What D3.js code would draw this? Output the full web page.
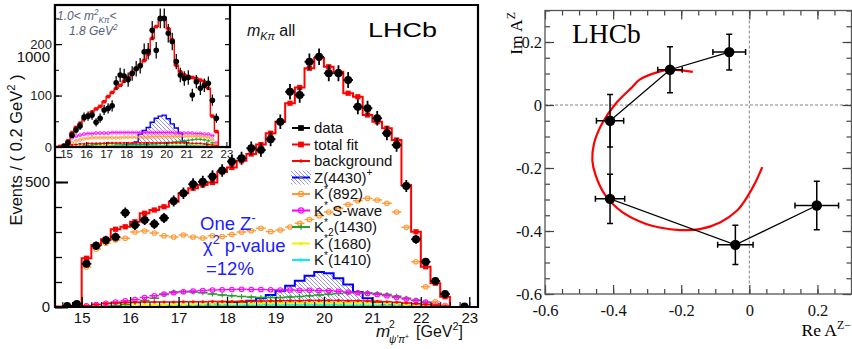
<!DOCTYPE html>
<html>
<head>
<meta charset="utf-8">
<script src="https://cdn.jsdelivr.net/npm/d3@7"></script>
<style>
  body { margin: 0; background: #fff; }
  svg { display: block; }
</style>
</head>
<body>
<script>
// ---- left panel: m^2(psi' pi+) histogram, 0.2 GeV^2 bins ----
const binCenters = [14.7, 14.9, 15.1, 15.3, 15.5, 15.7, 15.9, 16.1, 16.3, 16.5, 16.7, 16.9, 17.1, 17.3,
  17.5, 17.7, 17.9, 18.1, 18.3, 18.5, 18.7, 18.9, 19.1, 19.3, 19.5, 19.7, 19.9, 20.1, 20.3, 20.5,
  20.7, 20.9, 21.1, 21.3, 21.5, 21.7, 21.9, 22.1, 22.3, 22.5, 22.7, 22.9];
const binHalfWidth = 0.1;

const mainData = [4, 12, 173, 245, 267, 280, 377, 328, 348, 332, 356, 424, 455, 491, 501, 522, 546, 582, 595, 635, 628, 671,
  741, 861, 848, 981, 1001, 935, 935, 908, 801, 795, 755, 695, 648, 484, 271, 181, 104, 52, 0, 2];
const mainErr = [2, 4, 14, 17, 18, 18, 21, 20, 20, 20, 20, 22, 23, 24, 24, 25, 25, 26, 26, 27, 27, 28,
  29, 31, 31, 33, 33, 32, 32, 32, 30, 30, 29, 28, 27, 24, 18, 15, 11, 8, 1, 2];
const mainTotal = [2, 5, 195, 248, 271, 311, 321, 341, 375, 388, 401, 421, 455, 475, 488, 498, 540, 558, 585, 612, 650, 695,
  741, 815, 878, 955, 996, 961, 941, 855, 841, 768, 741, 715, 668, 488, 301, 161, 95, 41, 0, 0];
const mainBkg = [0, 0, 5, 10, 14, 16, 18, 19, 20, 20, 20, 20, 21, 21, 21, 22, 22, 22, 23, 23, 24, 24,
  25, 25, 25, 26, 26, 26, 26, 25, 25, 24, 23, 21, 19, 16, 13, 10, 6, 3, 0, 0];
const mainZ = [0, 0, 0, 0, 0, 0, 0, 1, 1, 2, 2, 3, 3, 5, 7, 10, 13, 16, 20, 25, 35, 48,
  65, 85, 105, 125, 140, 135, 115, 90, 60, 35, 20, 12, 8, 5, 3, 2, 1, 0, 0, 0];
const mainK892 = [0, 2, 160, 232, 255, 268, 275, 300, 304, 296, 285, 280, 288, 280, 276, 285, 282, 290, 300, 305, 315, 302,
  308, 320, 335, 350, 365, 380, 395, 410, 425, 435, 428, 415, 380, 319, 181, 81, 21, 5, 0, 0];
const mainSwave = [0, 0, 5, 10, 15, 20, 25, 30, 38, 45, 52, 57, 61, 64, 66, 68, 69, 70, 71, 70, 70, 69,
  68, 68, 67, 67, 66, 65, 63, 60, 57, 54, 50, 45, 38, 32, 26, 20, 14, 6, 0, 0];
const mainK2 = [0, 0, 0, 1, 3, 6, 10, 18, 26, 35, 50, 60, 62, 60, 57, 52, 48, 45, 42, 40, 38, 38,
  38, 40, 42, 45, 48, 51, 54, 57, 58, 57, 54, 50, 43, 35, 27, 18, 10, 4, 0, 0];
const mainK1680 = [0, 0, 1, 2, 3, 4, 5, 6, 7, 8, 9, 10, 10, 11, 12, 12, 13, 13, 14, 14, 15, 15,
  15, 16, 16, 16, 16, 16, 15, 15, 15, 14, 14, 13, 12, 10, 8, 6, 4, 2, 0, 0];
const mainK1410 = [0, 0, 1, 1, 2, 2, 3, 3, 4, 4, 5, 5, 5, 6, 6, 6, 7, 7, 7, 7, 8, 8,
  8, 8, 8, 8, 8, 8, 8, 7, 7, 7, 7, 6, 6, 5, 4, 3, 2, 1, 0, 0];

// inset: 1.0 < m^2(K pi) < 1.8 GeV^2
const insetData = [0, 2, 8, 23, 33, 41, 58, 60, 62, 48, 56, 72, 75, 80, 125, 140, 138, 131, 143, 152, 158, 185,
  186, 227, 188, 250, 250, 221, 205, 166, 140, 133, 135, 101, 127, 114, 120, 124, 91, 56, 0, 0];
const insetErr = [1, 2, 4, 6, 7, 8, 9, 9, 9, 8, 9, 10, 10, 11, 13, 14, 14, 14, 14, 15, 15, 16,
  16, 18, 16, 19, 19, 18, 17, 15, 14, 14, 14, 12, 13, 13, 13, 13, 11, 9, 0, 0];
const insetTotal = [1, 3, 12, 28, 38, 46, 55, 62, 68, 74, 79, 88, 98, 106, 114, 120, 128, 135, 145, 152, 159, 168,
  180, 211, 234, 248, 250, 230, 208, 159, 146, 140, 137, 135, 133, 130, 127, 114, 60, 30, 0, 0];
const insetBkg = [0, 0, 2, 4, 5, 6, 6, 7, 7, 7, 7, 7, 8, 8, 8, 8, 8, 8, 8, 8, 8, 8,
  8, 8, 8, 8, 8, 8, 8, 8, 8, 8, 8, 7, 7, 7, 6, 5, 4, 2, 0, 0];
const insetZ = [0, 0, 0, 0, 0, 0, 0, 0, 0, 0, 0, 0, 1, 1, 2, 2, 3, 4, 6, 10, 25, 32,
  38, 48, 56, 60, 62, 55, 45, 37, 27, 10, 4, 2, 1, 0, 0, 0, 0, 0, 0, 0];
const insetK892 = [0, 0, 4, 8, 12, 14, 16, 17, 18, 18, 18, 18, 18, 18, 18, 18, 19, 19, 19, 19, 19, 19,
  19, 20, 20, 20, 20, 20, 20, 21, 21, 21, 21, 21, 21, 21, 20, 18, 14, 5, 0, 0];
const insetSwave = [0, 0, 10, 18, 21, 23, 25, 26, 26, 27, 27, 27, 27, 28, 28, 28, 28, 28, 28, 28, 28, 28,
  28, 28, 28, 28, 28, 28, 28, 27, 27, 27, 27, 27, 26, 26, 25, 25, 22, 8, 0, 0];
const insetK2 = [0, 0, 0, 0, 1, 1, 2, 3, 4, 5, 6, 7, 7, 7, 6, 6, 5, 5, 5, 5, 5, 5,
  5, 6, 6, 7, 7, 8, 9, 10, 11, 12, 13, 14, 15, 15, 14, 12, 8, 3, 0, 0];
const insetK1680 = [0, 0, 1, 1, 2, 2, 3, 3, 3, 4, 4, 4, 4, 5, 5, 5, 5, 5, 5, 6, 6, 6,
  6, 6, 6, 6, 6, 6, 6, 6, 6, 6, 6, 5, 5, 5, 5, 4, 3, 1, 0, 0];
const insetK1410 = [0, 0, 0, 1, 1, 1, 1, 2, 2, 2, 2, 2, 2, 2, 3, 3, 3, 3, 3, 3, 3, 3,
  3, 3, 3, 3, 3, 3, 3, 3, 3, 3, 3, 3, 3, 2, 2, 2, 1, 1, 0, 0];

const massTicks = [15, 16, 17, 18, 19, 20, 21, 22, 23];
const mainYTicks = [0, 500, 1000];
const insetYTicks = [0, 100, 200];

// ---- right panel: Argand diagram of the Z amplitude ----
const argRe = [-0.059, -0.233, -0.409, -0.409, -0.041, 0.198];
const argIm = [0.168, 0.112, -0.050, -0.298, -0.444, -0.319];
const argReErr = [0.048, 0.036, 0.040, 0.043, 0.052, 0.064];
const argImErr = [0.057, 0.073, 0.083, 0.078, 0.062, 0.077];
const arcRe = [-0.166, -0.234, -0.264, -0.323, -0.343, -0.392, -0.432, -0.456, -0.461, -0.451, -0.422,
  -0.372, -0.303, -0.264, -0.204, -0.145, -0.086, -0.036, -0.007, 0.018, 0.038];
const arcIm = [0.105, 0.112, 0.106, 0.080, 0.058, 0.005, -0.058, -0.122, -0.176, -0.224, -0.288,
  -0.341, -0.378, -0.389, -0.397, -0.394, -0.373, -0.335, -0.293, -0.245, -0.197];
const argTicks = [-0.6, -0.4, -0.2, 0, 0.2];
const argTickLabels = ['-0.6', '-0.4', '-0.2', '0', '0.2'];

const C = {
  red: '#ff0000', orange: '#ff9933', magenta: '#ff00ff', green: '#22a022',
  yellow: '#f2f200', cyan: '#00f0f0', blue: '#0000ff', hatch: '#8f8fdc', text: '#111'
};
const SANS = '"Liberation Sans", Arial, sans-serif';
const SERIF = '"Liberation Serif", "Times New Roman", serif';

const svg = d3.select('body').append('svg').attr('width', 852).attr('height', 349);
const defs = svg.append('defs');

defs.append('pattern')
  .attr('id', 'hatch')
  .attr('patternUnits', 'userSpaceOnUse')
  .attr('width', 4).attr('height', 4)
  .append('path')
  .attr('d', 'M-1,-1 l2,2 M0,0 l4,4 M3,3 l2,2')
  .attr('stroke', C.hatch)
  .attr('stroke-width', 0.9);

// text with super/subscripts: parts = [text, 'sup'|'sub'|null, italic]
function rich(parent, x, y, parts, opt) {
  const t = parent.append('text')
    .attr('x', x).attr('y', y)
    .attr('font-family', opt.family || SANS)
    .attr('font-size', opt.size)
    .attr('fill', opt.fill || C.text);
  if (opt.anchor) t.attr('text-anchor', opt.anchor);
  if (opt.transform) t.attr('transform', opt.transform).attr('x', 0).attr('y', 0);
  let shift = 0;
  parts.forEach(([txt, kind, italic]) => {
    const target = kind === 'sup' ? -opt.size * 0.42 : kind === 'sub' ? opt.size * 0.28 : 0;
    const ts = t.append('tspan').attr('dy', target - shift).text(txt);
    if (kind) ts.attr('font-size', opt.size * 0.68);
    if (italic) ts.attr('font-style', 'italic');
    shift = target;
  });
  return t;
}

function stepPts(vals, sx) {
  const pts = [[sx.domain()[0], vals[0]]];
  binCenters.forEach((c, i) => {
    pts.push([c - binHalfWidth, vals[i]]);
    pts.push([c + binHalfWidth, vals[i]]);
  });
  pts.push([sx.domain()[1], vals[vals.length - 1]]);
  return pts;
}

function marker(g, px, py, type, color, k) {
  if (type === 'circle') {
    g.append('circle').attr('cx', px).attr('cy', py).attr('r', 2.3 * k)
      .attr('fill', 'none').attr('stroke', color).attr('stroke-width', 1.1 * k);
  } else if (type === 'square') {
    g.append('rect').attr('x', px - 2.6 * k).attr('y', py - 2.6 * k)
      .attr('width', 5.2 * k).attr('height', 5.2 * k).attr('fill', color);
  } else if (type === 'plus') {
    g.append('path').attr('d', `M${px - 2.5 * k},${py}h${5 * k}M${px},${py - 2.5 * k}v${5 * k}`)
      .attr('stroke', color).attr('stroke-width', 1.1 * k);
  } else {
    g.append('circle').attr('cx', px).attr('cy', py).attr('r', 1.5 * k).attr('fill', color);
  }
}

// component drawn as per-bin horizontal bars with a marker at the bin centre
function bins(g, sx, sy, vals, color, type, k, width) {
  binCenters.forEach((c, i) => {
    if (vals[i] <= 0) return;
    g.append('line')
      .attr('x1', sx(c - binHalfWidth)).attr('x2', sx(c + binHalfWidth))
      .attr('y1', sy(vals[i])).attr('y2', sy(vals[i]))
      .attr('stroke', color).attr('stroke-width', width * k);
    marker(g, sx(c), sy(vals[i]), type, color, k);
  });
}

function drawContent(g, sx, sy, s, k) {
  const line = d3.line().x(d => sx(d[0])).y(d => sy(d[1]));
  const zPts = stepPts(s.z, sx);
  g.append('path').datum(zPts)
    .attr('d', d3.area().x(d => sx(d[0])).y0(sy(0)).y1(d => sy(d[1])))
    .attr('fill', 'url(#hatch)');
  g.append('path').datum(zPts).attr('d', line)
    .attr('fill', 'none').attr('stroke', C.blue).attr('stroke-width', 2 * k);

  bins(g, sx, sy, s.k1410, C.cyan, 'dot', k, 1.6);
  bins(g, sx, sy, s.k1680, C.yellow, 'dot', k, 1.6);
  bins(g, sx, sy, s.k2, C.green, 'plus', k, 1.6);
  bins(g, sx, sy, s.swave, C.magenta, 'circle', k, 1.4);
  bins(g, sx, sy, s.k892, C.orange, 'circle', k, 1.4);
  bins(g, sx, sy, s.bkg, C.red, 'dot', k, 1.6);

  g.append('path').datum(stepPts(s.total, sx)).attr('d', line)
    .attr('fill', 'none').attr('stroke', C.red).attr('stroke-width', 2 * k);
  binCenters.forEach((c, i) => {
    if (s.total[i] > 0) marker(g, sx(c), sy(s.total[i]), 'square', C.red, k);
  });

  binCenters.forEach((c, i) => {
    const v = s.data[i];
    if (v <= 0) return;
    g.append('line')
      .attr('x1', sx(c)).attr('x2', sx(c))
      .attr('y1', sy(v - s.err[i])).attr('y2', sy(v + s.err[i]))
      .attr('stroke', '#000').attr('stroke-width', 1.8 * k);
    g.append('line')
      .attr('x1', sx(c - binHalfWidth)).attr('x2', sx(c + binHalfWidth))
      .attr('y1', sy(v)).attr('y2', sy(v))
      .attr('stroke', '#000').attr('stroke-width', 1.8 * k);
    g.append('circle').attr('cx', sx(c)).attr('cy', sy(v)).attr('r', 4 * k).attr('fill', '#000');
  });
}

function styleAxis(sel, color, width) {
  sel.select('.domain').remove();
  sel.selectAll('.tick line').attr('stroke', color).attr('stroke-width', width);
}

// ================= LEFT: main histogram =================
const M = { x0: 55, x1: 478, y0: 5, y1: 307 };
const x = d3.scaleLinear().domain([14.45, 23.18]).range([M.x0, M.x1]);
const y = d3.scaleLinear().domain([0, 1208]).range([M.y1, M.y0]);

defs.append('clipPath').attr('id', 'clipMain')
  .append('rect').attr('x', M.x0).attr('y', M.y0).attr('width', M.x1 - M.x0).attr('height', M.y1 - M.y0);

const gMain = svg.append('g').attr('clip-path', 'url(#clipMain)');
drawContent(gMain, x, y, {
  data: mainData, err: mainErr, total: mainTotal, bkg: mainBkg, z: mainZ,
  k892: mainK892, swave: mainSwave, k2: mainK2, k1680: mainK1680, k1410: mainK1410
}, 1);

// axes
const gx = svg.append('g').attr('transform', `translate(0,${M.y1})`);
gx.append('g').call(d3.axisBottom(x).tickValues(d3.range(14.6, 23.2, 0.2)).tickSize(-5).tickFormat(''))
  .call(s => styleAxis(s, '#000', 1));
gx.append('g').call(d3.axisBottom(x).tickValues(massTicks).tickSize(-10).tickPadding(5).tickFormat(d3.format('d')))
  .call(s => styleAxis(s, '#000', 1.3))
  .call(s => s.selectAll('text').attr('font-family', SANS).attr('font-size', 15).attr('fill', C.text));

const gy = svg.append('g').attr('transform', `translate(${M.x0},0)`);
gy.append('g').call(d3.axisLeft(y).tickValues(d3.range(0, 1201, 100)).tickSize(-7).tickFormat(''))
  .call(s => styleAxis(s, '#000', 1.3));
gy.append('g').call(d3.axisLeft(y).tickValues(mainYTicks).tickSize(-13).tickPadding(5).tickFormat(d3.format('d')))
  .call(s => styleAxis(s, '#000', 2))
  .call(s => s.selectAll('text').attr('font-family', SANS).attr('font-size', 15).attr('fill', C.text));

// frame
svg.append('path')
  .attr('d', `M${M.x0},${M.y1}V${M.y0}H${M.x1}V${M.y1}Z`)
  .attr('fill', 'none').attr('stroke', '#000').attr('stroke-width', 2.2);

// axis titles
rich(svg, 0, 0, [['Events / ( 0.2 GeV'], ['2', 'sup'], [' )']],
  { size: 16.5, transform: 'translate(22,150) rotate(-90)', anchor: 'middle' });
rich(svg, 376, 337, [['m', null, true]], { size: 17 });
rich(svg, 389, 328, [['2']], { size: 10.5 });
rich(svg, 389, 343, [['ψ\'π', null, true], ['+', 'sup']], { size: 10 });
rich(svg, 416, 337, [['[GeV'], ['2', 'sup'], [']']], { size: 16 });

// labels inside the main frame
rich(svg, 247, 36, [['m', null, true], ['Kπ', 'sub', true], [' all']], { size: 16 });
svg.append('text').attr('x', 368).attr('y', 37)
  .attr('font-family', SANS).attr('font-size', 21).attr('textLength', 69).attr('lengthAdjust', 'spacingAndGlyphs')
  .attr('fill', '#000').text('LHCb');

const blue = { size: 18.5, fill: '#2020ff' };
rich(svg, 200, 230, [['One Z'], ['-', 'sup']], blue);
rich(svg, 203, 252, [['χ'], ['2', 'sup'], [' p-value']], blue);
rich(svg, 206, 275, [['=12%']], blue);

// legend
const legendRows = [
  { parts: [['data']], color: '#000', type: 'square' },
  { parts: [['total fit']], color: C.red, type: 'square' },
  { parts: [['background']], color: C.red, type: 'dot' },
  { parts: [['Z(4430)'], ['+', 'sup']], color: C.blue, type: 'hatch' },
  { parts: [['K'], ['*', 'sup'], ['(892)']], color: C.orange, type: 'circle' },
  { parts: [['K'], ['*', 'sup'], [' S-wave']], color: C.magenta, type: 'circle' },
  { parts: [['K'], ['*', 'sup'], ['2', 'sub'], ['(1430)']], color: C.green, type: 'plus' },
  { parts: [['K'], ['*', 'sup'], ['(1680)']], color: C.yellow, type: 'dot' },
  { parts: [['K'], ['*', 'sup'], ['(1410)']], color: C.cyan, type: 'dot' }
];
const gLeg = svg.append('g');
legendRows.forEach((r, i) => {
  const cy = 128 + i * 16.5;
  if (r.type === 'hatch') {
    gLeg.append('rect').attr('x', 291).attr('y', cy - 7).attr('width', 20).attr('height', 14).attr('fill', 'url(#hatch)');
  }
  gLeg.append('line').attr('x1', 292).attr('x2', 310).attr('y1', cy).attr('y2', cy)
    .attr('stroke', r.color).attr('stroke-width', 2);
  marker(gLeg, 301, cy, r.type === 'hatch' ? 'dot' : r.type, r.type === 'hatch' ? '#777' : r.color, 1.1);
  rich(gLeg, 314, cy + 5, r.parts, { size: 15 });
});

// ================= LEFT: inset =================
const I = { x0: 55, x1: 230, y0: 5, y1: 147 };
const xi = d3.scaleLinear().domain([14.45, 23.18]).range([I.x0, I.x1]);
const yi = d3.scaleLinear().domain([0, 276]).range([I.y1, I.y0]);

svg.append('rect').attr('x', I.x0).attr('y', I.y0).attr('width', I.x1 - I.x0).attr('height', I.y1 - I.y0)
  .attr('fill', '#fff');
defs.append('clipPath').attr('id', 'clipInset')
  .append('rect').attr('x', I.x0).attr('y', I.y0).attr('width', I.x1 - I.x0).attr('height', I.y1 - I.y0);
const gIn = svg.append('g').attr('clip-path', 'url(#clipInset)');
drawContent(gIn, xi, yi, {
  data: insetData, err: insetErr, total: insetTotal, bkg: insetBkg, z: insetZ,
  k892: insetK892, swave: insetSwave, k2: insetK2, k1680: insetK1680, k1410: insetK1410
}, 0.7);

const gxi = svg.append('g').attr('transform', `translate(0,${I.y1})`);
gxi.append('g').call(d3.axisBottom(xi).tickValues(massTicks).tickSize(-5).tickPadding(3).tickFormat(d3.format('d')))
  .call(s => styleAxis(s, '#000', 1))
  .call(s => s.selectAll('text').attr('font-family', SANS).attr('font-size', 11.5).attr('fill', '#222'));
const gyi = svg.append('g').attr('transform', `translate(${I.x0},0)`);
gyi.append('g').call(d3.axisLeft(yi).tickValues(d3.range(0, 276, 50)).tickSize(-4).tickFormat(''))
  .call(s => styleAxis(s, '#000', 1));
gyi.append('g').call(d3.axisLeft(yi).tickValues(insetYTicks).tickSize(-7).tickPadding(3).tickFormat(d3.format('d')))
  .call(s => styleAxis(s, '#000', 1.2))
  .call(s => s.selectAll('text').attr('font-family', SANS).attr('font-size', 13).attr('fill', '#222'));
const gyir = svg.append('g').attr('transform', `translate(${I.x1},0)`);
gyir.append('g').call(d3.axisRight(yi).tickValues(d3.range(0, 276, 50)).tickSize(-5).tickFormat(''))
  .call(s => styleAxis(s, '#000', 1.2));

svg.append('rect').attr('x', I.x0).attr('y', I.y0).attr('width', I.x1 - I.x0).attr('height', I.y1 - I.y0)
  .attr('fill', 'none').attr('stroke', '#000').attr('stroke-width', 2.2);

const grey = { size: 12, fill: '#55617a' };
rich(svg, 57, 20, [['1.0< m', null, true], ['2', 'sup', true], ['Kπ', 'sub', true], ['<', null, true]], grey);
rich(svg, 69, 35, [['1.8 GeV', null, true], ['2', 'sup', true]], grey);

// ================= RIGHT: Argand diagram =================
const R = { x0: 545, x1: 851.5, y0: 10.5, y1: 294 };
const xr = d3.scaleLinear().domain([-0.6, 0.3]).range([R.x0, R.x1]);
const yr = d3.scaleLinear().domain([-0.6, 0.3]).range([R.y1, R.y0]);
const minorArg = d3.range(-0.6, 0.3001, 0.05);
const gR = svg.append('g');

gR.append('line').attr('x1', xr(0)).attr('x2', xr(0)).attr('y1', R.y0).attr('y2', R.y1)
  .attr('stroke', '#666').attr('stroke-width', 0.8).attr('stroke-dasharray', '3,2');
gR.append('line').attr('x1', R.x0).attr('x2', R.x1).attr('y1', yr(0)).attr('y2', yr(0))
  .attr('stroke', '#666').attr('stroke-width', 0.8).attr('stroke-dasharray', '3,2');

const argAxes = [
  [d3.axisBottom(xr), `translate(0,${R.y1})`, true, 'bottom'],
  [d3.axisTop(xr), `translate(0,${R.y0})`, false, 'top'],
  [d3.axisLeft(yr), `translate(${R.x0},0)`, true, 'left'],
  [d3.axisRight(yr), `translate(${R.x1},0)`, false, 'right']
];
argAxes.forEach(([ax, tr, labelled, side]) => {
  const g = gR.append('g').attr('transform', tr);
  g.append('g').call(ax.tickValues(minorArg).tickSize(-5).tickFormat(''))
    .call(s => styleAxis(s, '#444', 1.2));
  const major = g.append('g').call(ax.tickValues(argTicks).tickSize(-9).tickPadding(3)
    .tickFormat((d, i) => labelled ? argTickLabels[i] : ''))
    .call(s => styleAxis(s, '#444', 1.2))
    .call(s => s.selectAll('text').attr('font-family', SERIF).attr('font-size', 16.5).attr('fill', C.text));
  if (side === 'bottom') major.selectAll('text').attr('y', 10);
});

gR.append('rect').attr('x', R.x0).attr('y', R.y0).attr('width', R.x1 - R.x0).attr('height', R.y1 - R.y0)
  .attr('fill', 'none').attr('stroke', '#555').attr('stroke-width', 1.3);

// fitted Breit-Wigner trajectory
gR.append('path')
  .datum(arcRe.map((r, i) => [r, arcIm[i]]))
  .attr('d', d3.line().x(d => xr(d[0])).y(d => yr(d[1])).curve(d3.curveCatmullRom))
  .attr('fill', 'none').attr('stroke', C.red).attr('stroke-width', 2.2);

const argPts = argRe.map((r, i) => [r, argIm[i]]);
gR.append('path').datum(argPts)
  .attr('d', d3.line().x(d => xr(d[0])).y(d => yr(d[1])))
  .attr('fill', 'none').attr('stroke', '#000').attr('stroke-width', 1.3);

argPts.forEach(([re, im], i) => {
  const px = xr(re), py = yr(im);
  const xa = xr(re - argReErr[i]), xb = xr(re + argReErr[i]);
  const ya = yr(im - argImErr[i]), yb = yr(im + argImErr[i]);
  gR.append('path')
    .attr('d', `M${xa},${py}H${xb}M${px},${ya}V${yb}` +
      `M${xa},${py - 3}v6M${xb},${py - 3}v6M${px - 3},${ya}h6M${px - 3},${yb}h6`)
    .attr('stroke', '#000').attr('stroke-width', 1.5).attr('fill', 'none');
  gR.append('circle').attr('cx', px).attr('cy', py).attr('r', 5.2).attr('fill', '#000');
});

svg.append('text').attr('x', 572).attr('y', 43)
  .attr('font-family', SERIF).attr('font-size', 27.5).attr('fill', '#000').text('LHCb');
rich(svg, 0, 0, [['Im A'], ['Z', 'sup']],
  { size: 17.5, family: SERIF, transform: 'translate(522,12) rotate(-90)', anchor: 'end', fill: '#000' });
rich(svg, 851, 336, [['Re A'], ['Z', 'sup'], ['−', 'sup']],
  { size: 17.5, family: SERIF, anchor: 'end', fill: '#000' });
</script>
</body>
</html>
